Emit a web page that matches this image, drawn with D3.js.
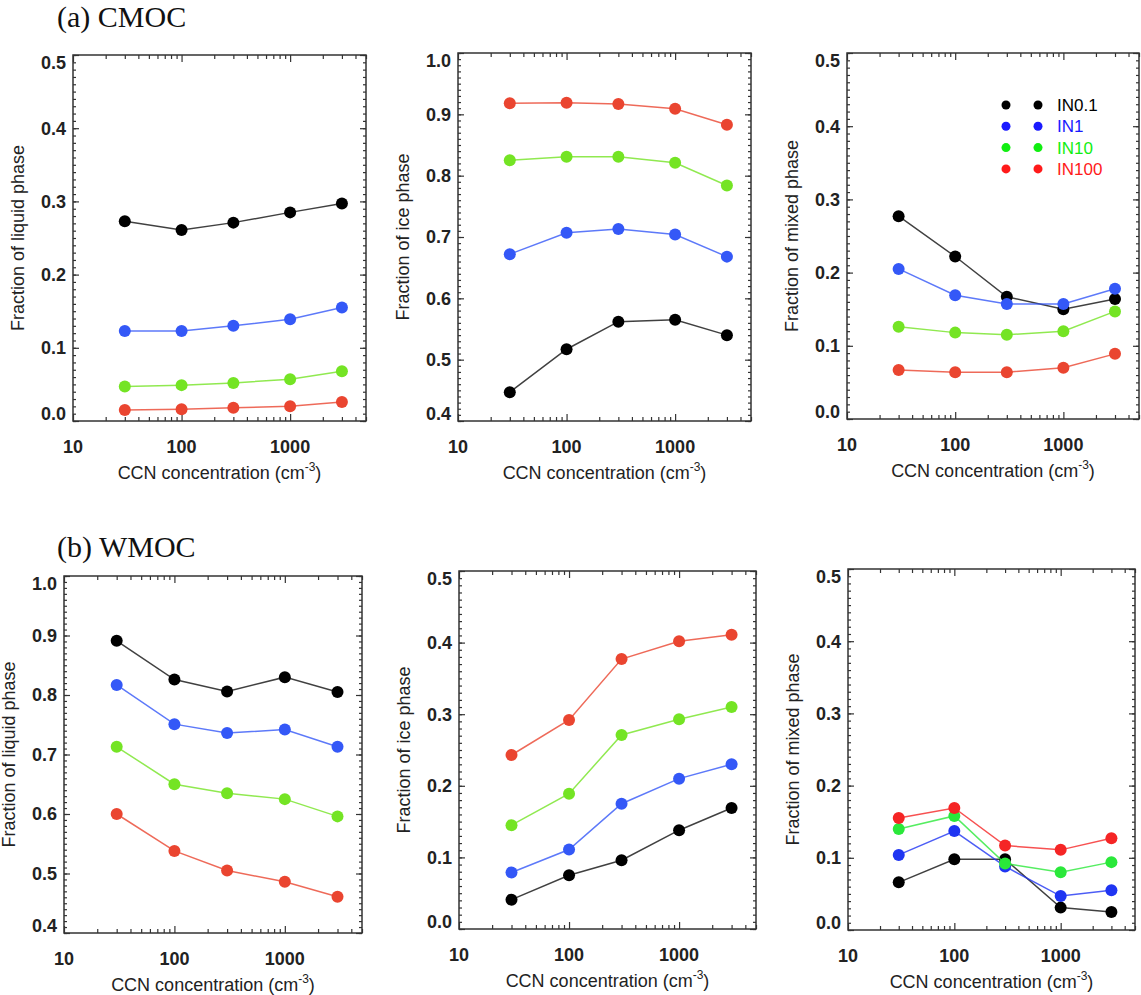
<!DOCTYPE html>
<html>
<head>
<meta charset="utf-8">
<script src="https://cdn.jsdelivr.net/npm/d3@7"></script>
<style>
  body { margin: 0; background: #fff; }
  svg { display: block; font-family: "Liberation Sans", Arial, Helvetica, sans-serif; }
</style>
</head>
<body>
<script>
// x values (CCN concentration, cm-3)
var ccn = [30, 100, 300, 1000, 3000];
var seriesNames = ["IN0.1", "IN1", "IN10", "IN100"];

// rows: IN0.1, IN1, IN10, IN100
var cmocLiquid = [
	[0.273, 0.261, 0.271, 0.285, 0.297],
	[0.123, 0.123, 0.130, 0.139, 0.155],
	[0.047, 0.049, 0.052, 0.057, 0.068],
	[0.015, 0.016, 0.018, 0.020, 0.026]
];
var cmocIce = [
	[0.447, 0.517, 0.562, 0.565, 0.540],
	[0.672, 0.707, 0.713, 0.704, 0.668],
	[0.825, 0.831, 0.831, 0.821, 0.784],
	[0.918, 0.919, 0.917, 0.909, 0.883]
];
var cmocMixed = [
	[0.277, 0.222, 0.167, 0.150, 0.164],
	[0.205, 0.169, 0.157, 0.157, 0.178],
	[0.126, 0.118, 0.115, 0.120, 0.147],
	[0.067, 0.064, 0.064, 0.070, 0.089]
];
var wmocLiquid = [
	[0.891, 0.826, 0.806, 0.830, 0.805],
	[0.817, 0.751, 0.736, 0.742, 0.713],
	[0.713, 0.650, 0.635, 0.625, 0.596],
	[0.600, 0.538, 0.505, 0.486, 0.461]
];
var wmocIce = [
	[0.041, 0.075, 0.096, 0.138, 0.169],
	[0.079, 0.111, 0.175, 0.210, 0.230],
	[0.145, 0.189, 0.271, 0.293, 0.310],
	[0.243, 0.292, 0.377, 0.402, 0.411]
];
var wmocMixed = [
	[0.066, 0.098, 0.098, 0.031, 0.025],
	[0.104, 0.137, 0.088, 0.047, 0.055],
	[0.140, 0.158, 0.092, 0.080, 0.094],
	[0.155, 0.169, 0.117, 0.111, 0.127]
];

var xTickLabels = [10, 100, 1000];
var yTicksLow = [0, 0.1, 0.2, 0.3, 0.4, 0.5];
var yTicksHigh = [0.4, 0.5, 0.6, 0.7, 0.8, 0.9, 1.0];

var mutedColors = ["#000000", "#3458f7", "#74e424", "#ea4530"];
var pureColors = ["#000000", "#1f35f2", "#2ae83a", "#f52525"];
var legendColors = ["#000000", "#1a1aff", "#11ee11", "#ff1a1a"];

var W = 1141, H = 995;
var svg = d3.select("body").append("svg")
	.attr("width", W)
	.attr("height", H);

// panel frames: [left, top, right, bottom]
var panels = [
	{ data: cmocLiquid, yTicks: yTicksLow, ytitle: "Fraction of liquid phase", box: [73, 55, 366, 421], colors: mutedColors },
	{ data: cmocIce, yTicks: yTicksHigh, ytitle: "Fraction of ice phase", box: [458, 53, 751, 421], colors: mutedColors },
	{ data: cmocMixed, yTicks: yTicksLow, ytitle: "Fraction of mixed phase", box: [847, 53, 1139, 419], colors: mutedColors, legend: true },
	{ data: wmocLiquid, yTicks: yTicksHigh, ytitle: "Fraction of liquid phase", box: [64, 576, 362, 933], colors: mutedColors },
	{ data: wmocIce, yTicks: yTicksLow, ytitle: "Fraction of ice phase", box: [459, 571, 756, 929], colors: mutedColors },
	{ data: wmocMixed, yTicks: yTicksLow, ytitle: "Fraction of mixed phase", box: [848, 569, 1135, 930], colors: pureColors }
];

//minor tick values
var xMinor = [];
[10, 100, 1000].forEach(function(d){
	for (var k = 2; k <= 9; k++) { if (d * k <= 5000) xMinor.push(d * k); }
});

panels.forEach(drawPanel);

function drawPanel(p) {
	var x0 = p.box[0], y0 = p.box[1], x1 = p.box[2], y1 = p.box[3];
	var yDom = d3.extent(p.yTicks);
	var x = d3.scaleLog().domain([10, 5000]).range([x0, x1]);
	var y = d3.scaleLinear().domain(yDom).range([y1, y0]);
	var g = svg.append("g");

	var yMinor = d3.range(Math.round(yDom[0] * 100), Math.round(yDom[1] * 100) + 1)
		.map(function(d){ return d / 100; });

	// ticks on all four sides, pointing inward
	var tickColor = "#333";
	function ticks(axis, tx, ty) {
		var a = g.append("g").attr("transform", "translate(" + tx + "," + ty + ")").call(axis);
		a.select(".domain").remove();
		a.selectAll("line").attr("stroke", tickColor).attr("stroke-width", 1.2);
		a.selectAll("text").remove();
	}
	ticks(d3.axisBottom(x).tickValues(xMinor).tickSize(-4), 0, y1);
	ticks(d3.axisBottom(x).tickValues(xTickLabels).tickSize(-7), 0, y1);
	ticks(d3.axisTop(x).tickValues(xMinor).tickSize(-4), 0, y0);
	ticks(d3.axisTop(x).tickValues(xTickLabels).tickSize(-7), 0, y0);
	ticks(d3.axisLeft(y).tickValues(yMinor).tickSize(-3), x0, 0);
	ticks(d3.axisLeft(y).tickValues(p.yTicks).tickSize(-6), x0, 0);
	ticks(d3.axisRight(y).tickValues(yMinor).tickSize(-3), x1, 0);
	ticks(d3.axisRight(y).tickValues(p.yTicks).tickSize(-6), x1, 0);

	g.append("rect")
		.attr("x", x0).attr("y", y0)
		.attr("width", x1 - x0).attr("height", y1 - y0)
		.attr("fill", "none")
		.attr("stroke", "#333")
		.attr("stroke-width", 1.5);

	// tick labels
	g.selectAll(".xlab")
		.data(xTickLabels)
		.enter().append("text")
		.attr("x", function(d){ return x(d); })
		.attr("y", y1 + 32)
		.attr("text-anchor", "middle")
		.attr("font-size", 18)
		.attr("font-weight", "bold")
		.attr("fill", "#222")
		.text(function(d){ return d; });

	var last = p.yTicks.length - 1;
	g.selectAll(".ylab")
		.data(p.yTicks)
		.enter().append("text")
		.attr("x", x0 - 7)
		.attr("y", function(d, i){
			var shift = i == 0 ? -7 : (i == last ? 8 : 0);	//end labels sit inside the frame
			return y(d) + shift;
		})
		.attr("dy", "0.36em")
		.attr("text-anchor", "end")
		.attr("font-size", 18)
		.attr("font-weight", "bold")
		.attr("fill", "#222")
		.text(d3.format(".1f"));

	// axis titles
	var xt = g.append("text")
		.attr("x", (x0 + x1) / 2)
		.attr("y", y1 + 58)
		.attr("text-anchor", "middle")
		.attr("font-size", 18)
		.attr("fill", "#222");
	xt.append("tspan").text("CCN concentration (cm");
	xt.append("tspan").attr("font-size", 12).attr("dy", -8).text("-3");
	xt.append("tspan").attr("dy", 8).text(")");

	g.append("text")
		.attr("transform", "translate(" + (x0 - 49) + "," + ((y0 + y1) / 2) + ") rotate(-90)")
		.attr("text-anchor", "middle")
		.attr("font-size", 18)
		.attr("fill", "#222")
		.text(p.ytitle);

	// series
	var line = d3.line()
		.x(function(d, i){ return x(ccn[i]); })
		.y(function(d){ return y(d); });

	p.data.forEach(function(vals, s) {
		var c = p.colors[s];
		g.append("path")
			.attr("d", line(vals))
			.attr("fill", "none")
			.attr("stroke", c)
			.attr("stroke-opacity", s == 0 ? 0.75 : 0.8)
			.attr("stroke-width", 1.5);
		g.selectAll(".pt" + s)
			.data(vals)
			.enter().append("circle")
			.attr("cx", function(d, i){ return x(ccn[i]); })
			.attr("cy", function(d){ return y(d); })
			.attr("r", 6)
			.attr("fill", c);
	});

	if (p.legend) {
		var lg = g.append("g");
		seriesNames.forEach(function(name, s) {
			var ly = 105 + s * 21.3;
			[1006, 1038].forEach(function(cx){
				lg.append("circle").attr("cx", cx).attr("cy", ly).attr("r", 4.5).attr("fill", legendColors[s]);
			});
			lg.append("text")
				.attr("x", 1057)
				.attr("y", ly)
				.attr("dy", "0.36em")
				.attr("font-size", 17)
				.attr("fill", legendColors[s])
				.text(name);
		});
	}
}

// panel titles
svg.append("text")
	.attr("x", 57).attr("y", 27)
	.attr("font-family", "'Liberation Serif', 'Times New Roman', serif")
	.attr("font-size", 30)
	.attr("fill", "#111")
	.text("(a) CMOC");
svg.append("text")
	.attr("x", 57).attr("y", 557)
	.attr("font-family", "'Liberation Serif', 'Times New Roman', serif")
	.attr("font-size", 30)
	.attr("fill", "#111")
	.text("(b) WMOC");
</script>
</body>
</html>
